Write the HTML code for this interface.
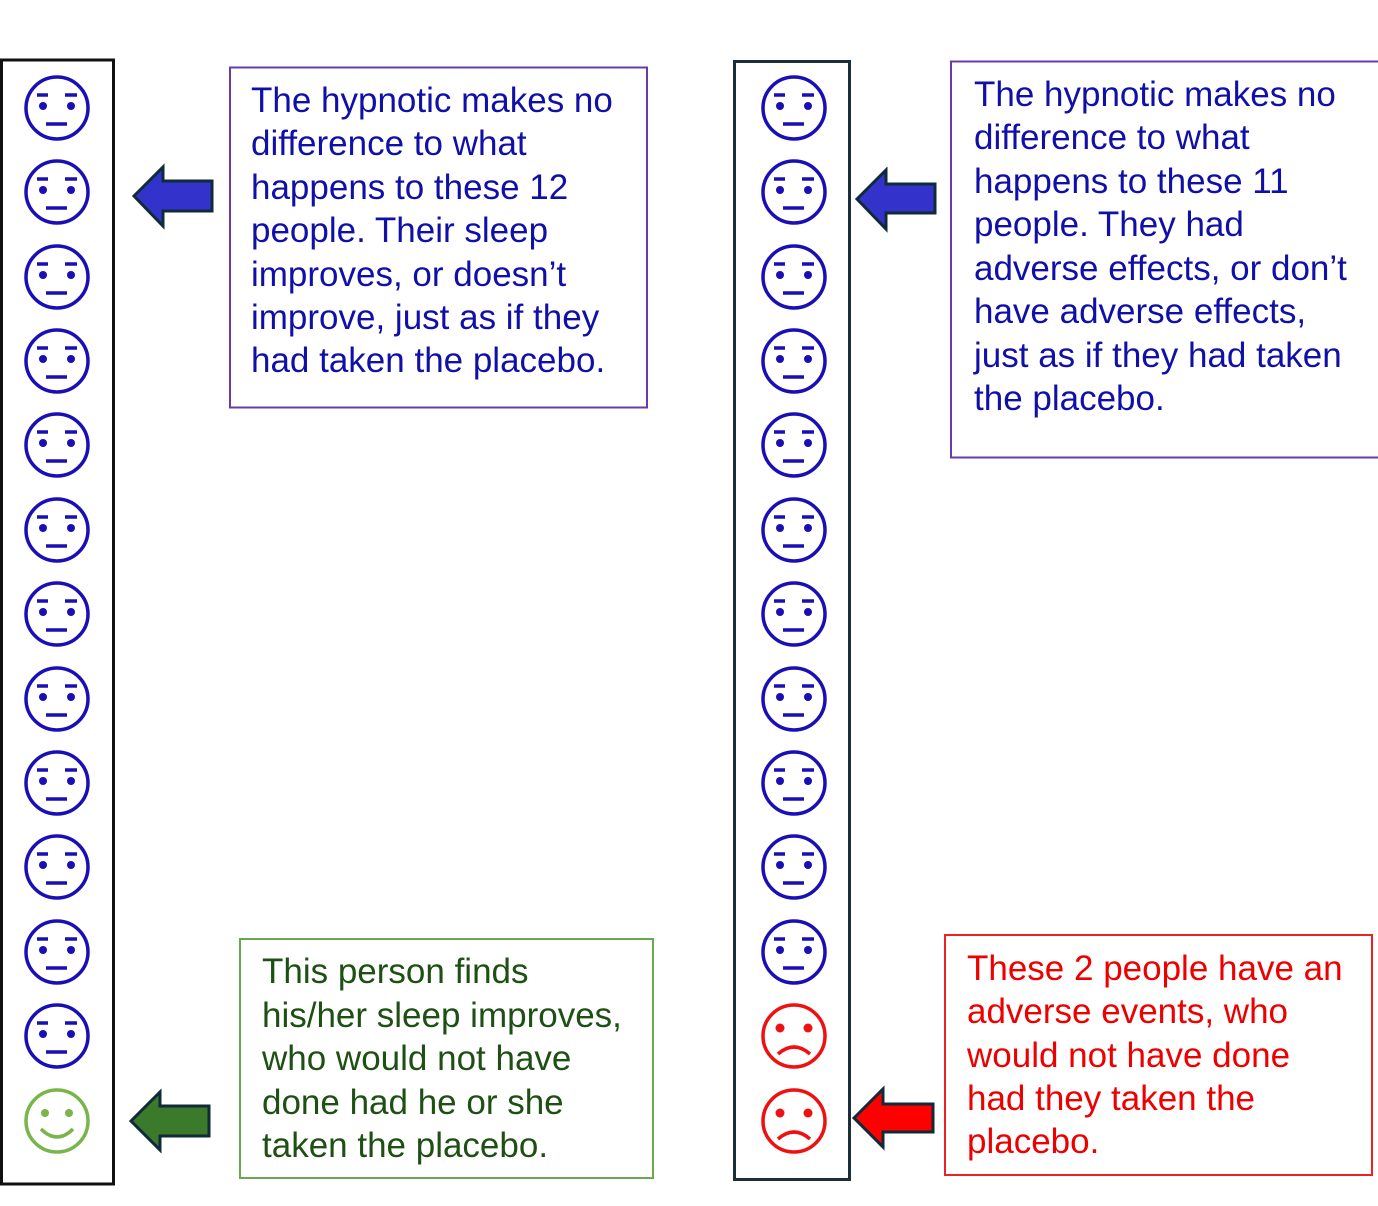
<!DOCTYPE html>
<html><head><meta charset="utf-8"><style>
html,body{margin:0;padding:0;background:#fff;}
svg{display:block;}
text{font-family:"Liberation Sans",Arial,sans-serif;font-size:35px;}
</style></head><body>
<svg width="1378" height="1206" viewBox="0 0 1378 1206" xmlns="http://www.w3.org/2000/svg">
<defs>
<g id="n" fill="none" stroke="#1a0fb5" stroke-width="3.5">
<circle cx="0" cy="0" r="31"/>
<line x1="-20" y1="-13" x2="-9" y2="-13"/><line x1="8" y1="-13" x2="20" y2="-13"/>
<line x1="-11" y1="16" x2="10" y2="16"/>
<circle cx="-14" cy="-2" r="4" fill="#1a0fb5" stroke="none"/><circle cx="14" cy="-2" r="4" fill="#1a0fb5" stroke="none"/>
</g>
<g id="s" fill="none" stroke="#ee1111" stroke-width="3.5">
<circle cx="0" cy="0" r="31"/>
<circle cx="-14" cy="-8" r="4.5" fill="#ee1111" stroke="none"/><circle cx="14" cy="-8" r="4.5" fill="#ee1111" stroke="none"/>
<path d="M-16 18 Q0 4 16 18"/>
</g>
<g id="h" fill="none" stroke="#79b54a" stroke-width="3.5">
<circle cx="0" cy="0" r="31"/>
<circle cx="-12" cy="-8" r="4" fill="#79b54a" stroke="none"/><circle cx="12" cy="-8" r="4" fill="#79b54a" stroke="none"/>
<path d="M-16 8 Q0 24 16 8"/>
</g>
</defs>
<rect x="1.5" y="60" width="112" height="1124" fill="none" stroke="#111" stroke-width="3"/>
<rect x="734.5" y="61.5" width="115" height="1118" fill="none" stroke="#1c2e3a" stroke-width="3"/>
<g transform="translate(57,0)">
<use href="#n" y="108"/><use href="#n" y="192"/><use href="#n" y="277"/><use href="#n" y="361"/><use href="#n" y="445"/><use href="#n" y="530"/><use href="#n" y="614"/><use href="#n" y="699"/><use href="#n" y="783"/><use href="#n" y="867"/><use href="#n" y="952"/><use href="#n" y="1036"/><use href="#h" y="1121"/>
</g>
<g transform="translate(794,0)">
<use href="#n" y="108"/><use href="#n" y="192"/><use href="#n" y="277"/><use href="#n" y="361"/><use href="#n" y="445"/><use href="#n" y="530"/><use href="#n" y="614"/><use href="#n" y="699"/><use href="#n" y="783"/><use href="#n" y="867"/><use href="#n" y="952"/><use href="#s" y="1036"/><use href="#s" y="1121"/>
</g>
<g stroke="#0f2a38" stroke-width="3" stroke-linejoin="miter">
<polygon points="134,196 163,167 163,181 212,181 212,211 163,211 163,226" fill="#3333cc"/>
<polygon points="131,1121 160,1092 160,1106 209,1106 209,1136 160,1136 160,1150" fill="#3a7a2a"/>
<polygon points="857,199 886,170 886,184 935,184 935,213 886,213 886,229" fill="#3333cc"/>
<polygon points="854,1118 883,1089 883,1104 933,1104 933,1132 883,1132 883,1147" fill="#ff0000"/>
</g>
<rect x="230" y="67.5" width="417" height="340" fill="none" stroke="#6a3aa8" stroke-width="2"/>
<rect x="951" y="61.5" width="428" height="396" fill="none" stroke="#6a3aa8" stroke-width="2"/>
<rect x="240" y="939" width="413" height="239" fill="none" stroke="#6aa84f" stroke-width="2"/>
<rect x="945" y="935" width="427" height="240" fill="none" stroke="#ee2222" stroke-width="2"/>
<g fill="#1010a8">
<text x="251" y="112">The hypnotic makes no</text>
<text x="251" y="155">difference to what</text>
<text x="251" y="199">happens to these 12</text>
<text x="251" y="242">people. Their sleep</text>
<text x="251" y="286">improves, or doesn’t</text>
<text x="251" y="329">improve, just as if they</text>
<text x="251" y="372">had taken the placebo.</text>
<text x="974" y="106">The hypnotic makes no</text>
<text x="974" y="149">difference to what</text>
<text x="974" y="193">happens to these 11</text>
<text x="974" y="236">people. They had</text>
<text x="974" y="280">adverse effects, or don’t</text>
<text x="974" y="323">have adverse effects,</text>
<text x="974" y="367">just as if they had taken</text>
<text x="974" y="410">the placebo.</text>
</g>
<g fill="#1e5014">
<text x="262" y="983">This person finds</text>
<text x="262" y="1027">his/her sleep improves,</text>
<text x="262" y="1070">who would not have</text>
<text x="262" y="1114">done had he or she</text>
<text x="262" y="1157">taken the placebo.</text>
</g>
<g fill="#ee0000">
<text x="967" y="980">These 2 people have an</text>
<text x="967" y="1023">adverse events, who</text>
<text x="967" y="1067">would not have done</text>
<text x="967" y="1110">had they taken the</text>
<text x="967" y="1153">placebo.</text>
</g>
</svg>
</body></html>
